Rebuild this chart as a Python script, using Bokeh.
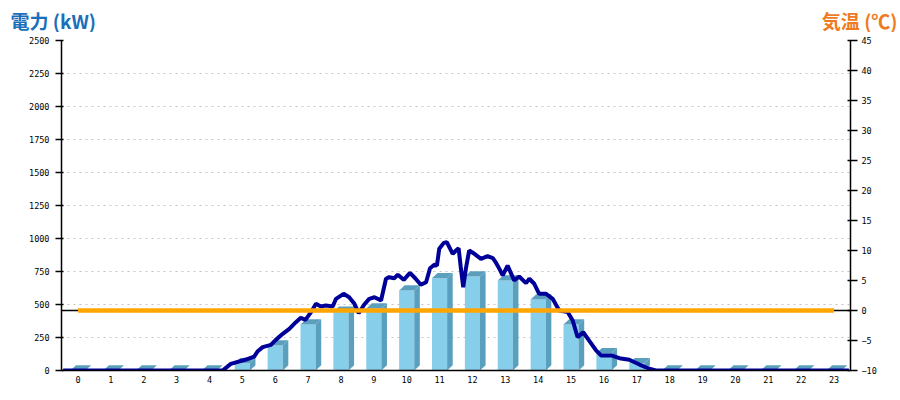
from bokeh.plotting import figure
from bokeh.models import Range1d, LinearAxis, Span, FixedTicker
from bokeh.layouts import column, row
from bokeh.core.properties import value
from bokeh.embed import file_html
from bokeh.resources import INLINE

# ---- data ----
hours = list(range(24))
power_kw = [0, 0, 0, 0, 0, 55, 190, 348, 445, 470, 606, 699,
            712, 682, 538, 348, 130, 55, 0, 0, 0, 0, 0, 0]
temperature_c = [0, 0, 0, 0, 0, 0, 0, 0, 0, 0, 0, 0,
                 0, 0, 0, 0, 0, 0, 0, 0, 0, 0, 0, 0]
left_ticks = [0, 250, 500, 750, 1000, 1250, 1500, 1750, 2000, 2250, 2500]
right_ticks = [-10, -5, 0, 5, 10, 15, 20, 25, 30, 35, 40, 45]
left_title = "電力 (kW)"
right_title = "気温 (℃)"

line_hour = [-0.45, 4.40, 4.65, 5.11, 5.36, 5.47, 5.62, 5.87, 6.02, 6.23, 6.43, 6.63,
             6.78, 6.92, 7.09, 7.24, 7.39, 7.54, 7.75, 7.85, 8.08, 8.25, 8.41, 8.54,
             8.71, 8.86, 9.02, 9.22, 9.37, 9.47, 9.62, 9.73, 9.91, 10.10, 10.26, 10.43,
             10.59, 10.71, 10.84, 10.92, 10.99, 11.13, 11.22, 11.40, 11.50, 11.58, 11.65,
             11.72, 11.80, 11.90, 12.06, 12.26, 12.46, 12.62, 12.72, 12.82, 12.92, 13.07,
             13.27, 13.42, 13.63, 13.73, 13.88, 14.03, 14.24, 14.44, 14.64, 14.90, 15.05,
             15.20, 15.37, 15.55, 15.76, 15.91, 16.22, 16.47, 16.77, 17.08, 17.38, 17.58,
             23.45]
line_kw = [0, 0, 50, 83, 106, 146, 177, 194, 232, 278, 316, 366,
           399, 384, 442, 505, 485, 492, 485, 543, 581, 555, 505, 434,
           500, 543, 555, 530, 695, 707, 699, 725, 687, 740, 699, 649,
           669, 775, 801, 795, 922, 967, 972, 884, 909, 927, 770,
           631, 770, 909, 884, 846, 866, 851, 815, 770, 720, 795,
           682, 712, 662, 695, 657, 581, 581, 543, 455, 442, 379,
           252, 290, 227, 152, 114, 114, 93, 81, 45, 13, 0,
           0]

# ---- style ----
FRONT = "#87CEEB"
SHADE = "#5AA0BE"
HALF_W = 0.23
DEPTH_X = 0.17
DEPTH_Y = 40
W = 898
FRAME_L = 61
FRAME_R = 850

# ---- header with the two axis titles ----
hdr = figure(width=W, height=32, output_backend="svg", toolbar_location=None,
             x_range=Range1d(0, W), y_range=Range1d(0, 32),
             x_axis_location=None, y_axis_location=None,
             min_border_left=0, min_border_right=0, min_border_top=0, min_border_bottom=0)
hdr.outline_line_color = None
hdr.xgrid.visible = False
hdr.ygrid.visible = False
hdr.text(x=[10], y=[26], text=[left_title], text_font=value("Noto Sans CJK JP"),
         text_font_style="bold", text_font_size="19px", text_color="#1A6FBA",
         text_baseline="top", text_align="left")
hdr.text(x=[897], y=[26], text=[right_title], text_font=value("Noto Sans CJK JP"),
         text_font_style="bold", text_font_size="19px", text_color="#EE7B22",
         text_baseline="top", text_align="right")

# ---- main chart ----
p = figure(width=W, height=360, output_backend="svg", toolbar_location=None,
           x_range=Range1d(-0.5, 23.5), y_range=Range1d(0, 2500),
           min_border_left=FRAME_L, min_border_right=W - FRAME_R,
           min_border_top=8, min_border_bottom=22)
p.outline_line_color = None
p.extra_y_ranges = {"temp": Range1d(-10, 45)}

# 3D bars
side_xs, side_ys, top_xs, top_ys = [], [], [], []
for h, v in zip(hours, power_kw):
    r = h + HALF_W
    l = h - HALF_W
    side_xs.append([r, r + DEPTH_X, r + DEPTH_X, r])
    side_ys.append([0, DEPTH_Y, v + DEPTH_Y, v])
    top_xs.append([l, r, r + DEPTH_X, l + DEPTH_X])
    top_ys.append([v, v, v + DEPTH_Y, v + DEPTH_Y])

p.vbar(x=hours, top=power_kw, bottom=0, width=2 * HALF_W, fill_color=FRONT, line_color=None)
p.patches(xs=side_xs, ys=side_ys, fill_color=SHADE, line_color=None)
p.patches(xs=top_xs, ys=top_ys, fill_color=SHADE, line_color=None)

# zero line of temperature axis
p.add_layout(Span(location=0, dimension="width", y_range_name="temp",
                  line_color="black", line_width=1.5, level="underlay"))

# power line
p.line(line_hour, line_kw, line_color="#000099", line_width=4)

# temperature line
p.line(hours, temperature_c, y_range_name="temp", line_color="#FFA500", line_width=4.5)

# axes
ax_font = "DejaVu Sans Mono"
p.xaxis.ticker = FixedTicker(ticks=hours)
p.xaxis.major_tick_out = 0
p.xaxis.major_tick_in = 0
p.xaxis.minor_tick_out = 0
p.xaxis.minor_tick_in = 0
p.xaxis.major_label_standoff = 5
p.xaxis.axis_line_color = "black"
p.xaxis.axis_line_width = 1.5

p.yaxis.ticker = FixedTicker(ticks=left_ticks)
p.yaxis.major_tick_out = 6
p.yaxis.major_tick_in = 2
p.yaxis.minor_tick_out = 0
p.yaxis.minor_tick_in = 0
p.yaxis.major_label_standoff = 6
p.yaxis.axis_line_width = 1.5
p.yaxis.major_tick_line_width = 1.5

raxis = LinearAxis(y_range_name="temp", ticker=FixedTicker(ticks=right_ticks))
raxis.major_tick_out = 7
raxis.major_tick_in = 3
raxis.minor_tick_out = 0
raxis.minor_tick_in = 0
raxis.major_label_standoff = 4
raxis.axis_line_width = 1.5
raxis.major_tick_line_width = 1.5
p.add_layout(raxis, "right")

for ax in [p.xaxis[0], p.yaxis[0], raxis]:
    ax.major_label_text_font = ax_font
    ax.major_label_text_font_size = "8.5px"
    ax.major_label_text_color = "black"

p.xgrid.visible = False
p.ygrid.grid_line_color = "#C4C4C4"
p.ygrid.grid_line_dash = "2 4"
p.ygrid.grid_line_width = 1

layout = column(row(hdr), p, spacing=0)
open("out.html", "w").write(file_html(layout, INLINE))
